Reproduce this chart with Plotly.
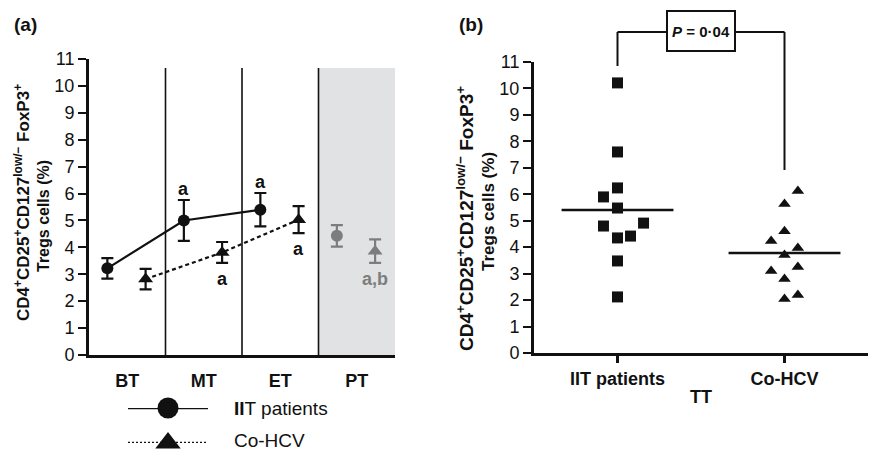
import plotly.graph_objects as go

FONT = "Liberation Sans, Arial, sans-serif"
BLACK = "#111111"
GREY = "#7d7d7d"

# ---- Panel (a): Tregs across treatment stages (mean ± SEM) ----
stages = ["BT", "MT", "ET", "PT"]
iit_mean = [3.22, 5.00, 5.40, 4.43]
iit_err = [0.38, 0.76, 0.62, 0.40]
hcv_mean = [2.82, 3.81, 5.03, 3.86]
hcv_err = [0.38, 0.39, 0.50, 0.44]
iit_marks = ["", "a", "a", ""]
hcv_marks = ["", "a", "a", "a,b"]

# ---- Panel (b): individual values during therapy ----
groups = ["IIT patients", "Co-HCV"]
iit_tt = [10.21, 7.60, 6.24, 5.90, 5.48, 4.80, 4.91, 4.35, 4.42, 3.48, 2.12]
iit_tt_jitter = [0, 0, 0, -0.084, 0, -0.084, 0.156, 0, 0.078, 0, 0]
hcv_tt = [6.12, 5.63, 4.60, 4.23, 3.97, 3.70, 3.10, 3.25, 2.80, 2.04, 2.19]
hcv_tt_jitter = [0.08, 0, 0, -0.08, 0.08, 0, -0.08, 0.08, 0, 0, 0.08]
p_label = "<i>P</i> = 0·04"

y_title_1 = "CD4<sup>+</sup>CD25<sup>+</sup>CD127<sup>low/−</sup> FoxP3<sup>+</sup>"
y_title_2 = "Tregs cells (%)"

W, H = 872, 451
IIT_SHIFT, HCV_SHIFT = -0.26, 0.24
ON_TREATMENT = 3  # BT, MT, ET are joined by lines; PT is shown apart


def px_x(p):
    return p / W


def px_y(p):
    return (H - p) / H


def label(x, y, text, size, bold=True, xref="paper", yref="paper", **kw):
    d = dict(x=x, y=y, xref=xref, yref=yref, showarrow=False,
             text="<b>%s</b>" % text if bold else text,
             xanchor="center", yanchor="middle",
             font=dict(family=FONT, size=size, color=kw.pop("color", BLACK)))
    d.update(kw)
    return d


fig = go.Figure()

# Panel (a) series
idx = list(range(len(stages)))
fig.add_trace(go.Scatter(
    x=[i + IIT_SHIFT for i in idx[:ON_TREATMENT]], y=iit_mean[:ON_TREATMENT],
    mode="lines+markers", line=dict(color=BLACK, width=2.2),
    marker=dict(symbol="circle", size=12, color=BLACK),
    error_y=dict(type="data", array=iit_err[:ON_TREATMENT], color=BLACK, thickness=2.2, width=6),
    xaxis="x", yaxis="y", showlegend=False, cliponaxis=False))
fig.add_trace(go.Scatter(
    x=[i + HCV_SHIFT for i in idx[:ON_TREATMENT]], y=hcv_mean[:ON_TREATMENT],
    mode="lines+markers", line=dict(color=BLACK, width=2.2, dash="4px,3px"),
    marker=dict(symbol="triangle-up", size=13, color=BLACK),
    error_y=dict(type="data", array=hcv_err[:ON_TREATMENT], color=BLACK, thickness=2.2, width=6),
    xaxis="x", yaxis="y", showlegend=False, cliponaxis=False))
fig.add_trace(go.Scatter(
    x=[i + IIT_SHIFT for i in idx[ON_TREATMENT:]], y=iit_mean[ON_TREATMENT:],
    mode="markers", marker=dict(symbol="circle", size=12, color=GREY),
    error_y=dict(type="data", array=iit_err[ON_TREATMENT:], color=GREY, thickness=2.2, width=6),
    xaxis="x", yaxis="y", showlegend=False))
fig.add_trace(go.Scatter(
    x=[i + HCV_SHIFT for i in idx[ON_TREATMENT:]], y=hcv_mean[ON_TREATMENT:],
    mode="markers", marker=dict(symbol="triangle-up", size=13, color=GREY),
    error_y=dict(type="data", array=hcv_err[ON_TREATMENT:], color=GREY, thickness=2.2, width=6),
    xaxis="x", yaxis="y", showlegend=False))

annotations = []
for i in idx:
    col = BLACK if i < ON_TREATMENT else GREY
    if iit_marks[i]:
        annotations.append(label(i + IIT_SHIFT, iit_mean[i] + iit_err[i], iit_marks[i], 18,
                                 xref="x", yref="y", yshift=11, color=col))
    if hcv_marks[i]:
        annotations.append(label(i + HCV_SHIFT, hcv_mean[i] - hcv_err[i], hcv_marks[i], 18,
                                 xref="x", yref="y", yshift=-16, color=col))

# Panel (b) scatter + group means
for k, (vals, jit, sym) in enumerate([(iit_tt, iit_tt_jitter, "square"),
                                      (hcv_tt, hcv_tt_jitter, "triangle-up")]):
    fig.add_trace(go.Scatter(
        x=[k + j for j in jit], y=vals, mode="markers",
        marker=dict(symbol=sym, size=11, color=BLACK),
        xaxis="x2", yaxis="y2", showlegend=False))
    m = sum(vals) / len(vals)
    fig.add_trace(go.Scatter(
        x=[k - 0.335, k + 0.335], y=[m, m], mode="lines",
        line=dict(color=BLACK, width=2.5),
        xaxis="x2", yaxis="y2", showlegend=False))

# Legend keys under panel (a)
fig.add_trace(go.Scatter(
    x=[0, 0.5, 1], y=[1, 1, 1], mode="lines", line=dict(color=BLACK, width=2.5),
    xaxis="x3", yaxis="y3", showlegend=False, cliponaxis=False))
fig.add_trace(go.Scatter(
    x=[0.5], y=[1], mode="markers", marker=dict(symbol="circle", size=21, color=BLACK),
    xaxis="x3", yaxis="y3", showlegend=False, cliponaxis=False))
fig.add_trace(go.Scatter(
    x=[0, 1], y=[0, 0], mode="lines", line=dict(color=BLACK, width=2.5, dash="2px,2px"),
    xaxis="x3", yaxis="y3", showlegend=False, cliponaxis=False))
fig.add_trace(go.Scatter(
    x=[0.5], y=[0], mode="markers", marker=dict(symbol="triangle-up", size=22, color=BLACK),
    xaxis="x3", yaxis="y3", showlegend=False, cliponaxis=False))

annotations += [
    label(px_x(232), px_y(408), "<b>II</b>T patients", 19, bold=False, xanchor="left"),
    label(px_x(232), px_y(440), "Co-HCV", 19, bold=False, xanchor="left"),
    label(px_x(25), px_y(25), "(a)", 19),
    label(px_x(471), px_y(25), "(b)", 19),
    # y titles
    label(px_x(22), px_y(203), y_title_1, 17, textangle=-90),
    label(px_x(44), px_y(216), y_title_2, 16, textangle=-90),
    label(px_x(465), px_y(219), y_title_1, 19, textangle=-90),
    label(px_x(488), px_y(212), y_title_2, 17, textangle=-90),
    label(px_x(701), px_y(397), "TT", 18),
    # significance box
    label(0.5, px_y(31.5), p_label, 15, xref="x2", bgcolor="white", bordercolor=BLACK,
          borderwidth=2, borderpad=2, width=62, height=34),
]

TOP_A = 10.67
shapes = [
    dict(type="rect", xref="x", yref="y", x0=2.5, x1=3.52, y0=0, y1=TOP_A,
         fillcolor="#e1e2e4", line=dict(width=0), layer="below"),
]
for b in (0.5, 1.5, 2.5):
    shapes.append(dict(type="line", xref="x", yref="y", x0=b, x1=b, y0=0, y1=TOP_A,
                       line=dict(color=BLACK, width=1.6), layer="below"))
bar_y = px_y(32)
shapes += [
    dict(type="line", xref="x2", yref="paper", x0=0, x1=1, y0=bar_y, y1=bar_y,
         line=dict(color=BLACK, width=2)),
    dict(type="line", xref="x2", yref="paper", x0=0, x1=0, y0=bar_y, y1=px_y(66),
         line=dict(color=BLACK, width=2)),
    dict(type="line", xref="x2", yref="paper", x0=1, x1=1, y0=bar_y, y1=px_y(170),
         line=dict(color=BLACK, width=2)),
]

tick_font = dict(family=FONT, size=18, color=BLACK)
cat_font = dict(family=FONT, size=18, color=BLACK)
yax_common = dict(range=[0, 11], dtick=1, tick0=0, showgrid=False, zeroline=False,
                  showline=True, linecolor=BLACK, linewidth=3, ticks="outside",
                  ticklen=8, tickwidth=2, tickcolor=BLACK, tickfont=tick_font,
                  automargin=False)

fig.update_layout(
    template="none",
    width=W, height=H, margin=dict(l=0, r=0, t=0, b=0, pad=0, autoexpand=False),
    paper_bgcolor="white", plot_bgcolor="rgba(0,0,0,0)",
    showlegend=False,
    xaxis=dict(domain=[px_x(89), px_x(395)], range=[-0.5, 3.5], anchor="y",
               tickvals=idx, ticktext=["<b>%s</b>" % s for s in stages],
               tickfont=cat_font, ticks="outside", ticklen=7, tickcolor="rgba(0,0,0,0)",
               showline=True, linecolor=BLACK, linewidth=3, showgrid=False, zeroline=False,
               automargin=False),
    yaxis=dict(domain=[px_y(355), px_y(59)], anchor="x", **yax_common),
    xaxis2=dict(domain=[px_x(534), px_x(868)], range=[-0.5, 1.5], anchor="y2",
                tickvals=[0, 1], ticktext=["<b>%s</b>" % g for g in groups],
                tickfont=cat_font, ticks="outside", ticklen=7, tickwidth=2.5, tickcolor=BLACK,
                showline=True, linecolor=BLACK, linewidth=3, showgrid=False, zeroline=False,
                automargin=False),
    yaxis2=dict(domain=[px_y(353), px_y(62)], anchor="x2", **yax_common),
    xaxis3=dict(domain=[px_x(128), px_x(208)], range=[0, 1], anchor="y3", visible=False,
                automargin=False),
    yaxis3=dict(domain=[px_y(443), px_y(408)], range=[0, 1], anchor="x3", visible=False,
                automargin=False),
    annotations=annotations, shapes=shapes,
)

fig.write_html("out.html")
